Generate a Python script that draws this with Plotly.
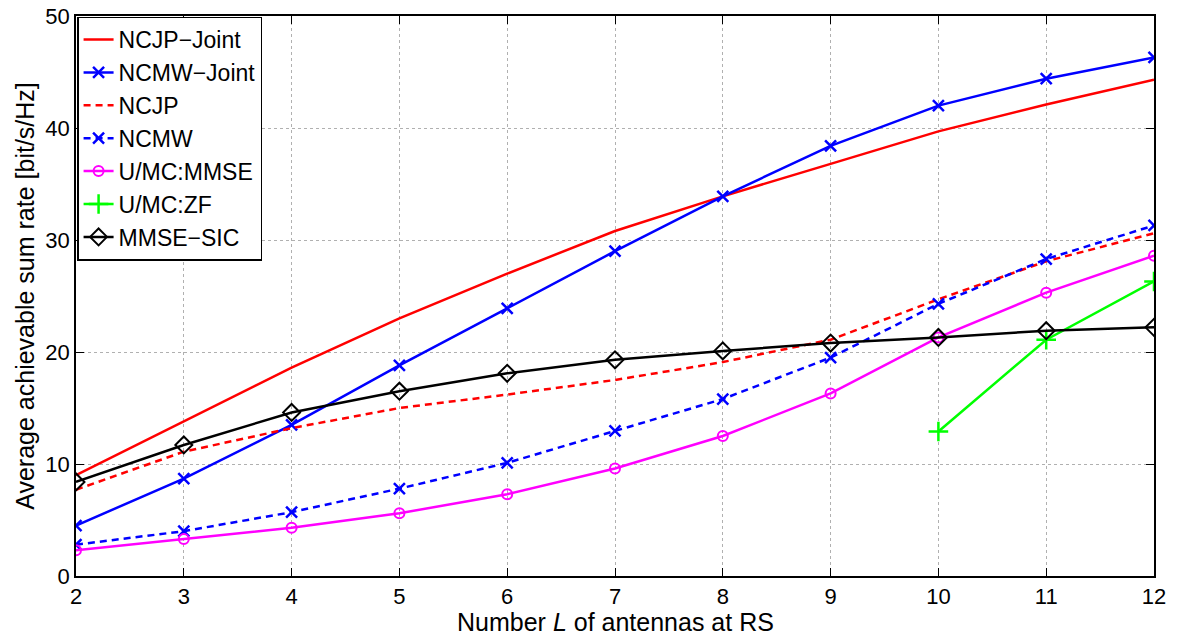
import plotly.graph_objects as go

L = [2, 3, 4, 5, 6, 7, 8, 9, 10, 11, 12]
ncjp_joint = [9.0, 13.8, 18.6, 23.0, 27.0, 30.8, 33.9, 36.8, 39.7, 42.1, 44.3]
ncmw_joint = [4.5, 8.7, 13.5, 18.8, 23.9, 29.0, 33.9, 38.4, 42.0, 44.4, 46.3]
ncjp = [7.7, 11.1, 13.2, 15.0, 16.2, 17.5, 19.1, 21.1, 24.7, 28.1, 30.6]
ncmw = [2.8, 4.0, 5.7, 7.8, 10.1, 12.95, 15.8, 19.5, 24.3, 28.3, 31.3]
umc_mmse = [2.3, 3.3, 4.3, 5.6, 7.3, 9.6, 12.5, 16.3, 21.3, 25.3, 28.6]
L_zf = [10, 11, 12]
umc_zf = [12.9, 21.1, 26.3]
mmse_sic = [8.4, 11.7, 14.6, 16.5, 18.1, 19.3, 20.1, 20.8, 21.3, 21.9, 22.2]

RED = "#ff0000"
BLUE = "#0000ff"
MAG = "#ff00ff"
GRN = "#00ff00"
BLK = "#000000"
LW = 2.5
FONT = "Liberation Sans, Arial, Helvetica, sans-serif"

fig = go.Figure()
fig.add_trace(go.Scatter(x=L, y=ncjp_joint, mode="lines", name="NCJP\u2212Joint",
                         line=dict(color=RED, width=LW)))
fig.add_trace(go.Scatter(x=L, y=ncmw_joint, mode="lines+markers", name="NCMW\u2212Joint",
                         line=dict(color=BLUE, width=LW),
                         marker=dict(symbol="x-thin-open", size=11, line=dict(color=BLUE, width=2.5))))
fig.add_trace(go.Scatter(x=L, y=ncjp, mode="lines", name="NCJP",
                         line=dict(color=RED, width=LW, dash="7px,5px")))
fig.add_trace(go.Scatter(x=L, y=ncmw, mode="lines+markers", name="NCMW",
                         line=dict(color=BLUE, width=LW, dash="7px,5px"),
                         marker=dict(symbol="x-thin-open", size=11, line=dict(color=BLUE, width=2.5))))
fig.add_trace(go.Scatter(x=L, y=umc_mmse, mode="lines+markers", name="U/MC:MMSE",
                         line=dict(color=MAG, width=LW),
                         marker=dict(symbol="circle-open", size=10, color=MAG, line=dict(color=MAG, width=2))))
fig.add_trace(go.Scatter(x=L_zf, y=umc_zf, mode="lines+markers", name="U/MC:ZF",
                         line=dict(color=GRN, width=LW),
                         marker=dict(symbol="cross-thin-open", size=14, line=dict(color=GRN, width=2.5))))
fig.add_trace(go.Scatter(x=L, y=mmse_sic, mode="lines+markers", name="MMSE\u2212SIC",
                         line=dict(color=BLK, width=LW),
                         marker=dict(symbol="diamond-open", size=13, color=BLK, line=dict(color=BLK, width=2))))

axis_common = dict(
    showline=True, linecolor="black", linewidth=1.5, mirror="ticks",
    ticks="inside", ticklen=8, tickcolor="black", tickwidth=1,
    showgrid=True, gridcolor="#b0b0b0", griddash="dot", gridwidth=1,
    zeroline=False, automargin=False, ticklabeloverflow="allow",
    tickfont=dict(family=FONT, size=22, color="black"),
)

fig.update_layout(
    width=1177, height=637,
    margin=dict(l=68, r=31, t=8, b=69),
    paper_bgcolor="white", plot_bgcolor="white",
    font=dict(family=FONT, size=22, color="black"),
    xaxis=dict(range=[2, 12], tickmode="array", tickvals=L, **axis_common),
    yaxis=dict(range=[0, 50], tickmode="array", tickvals=[0, 10, 20, 30, 40, 50],
               title=dict(text="Average achievable sum rate [bit/s/Hz]", standoff=4,
                          font=dict(size=25)),
               **axis_common),
    legend=dict(x=0.001, y=0.999, xanchor="left", yanchor="top",
                bgcolor="white", bordercolor="black", borderwidth=1.5,
                font=dict(size=23), tracegroupgap=0, itemwidth=30,
                itemsizing="trace"),
    showlegend=True,
)

fig.add_annotation(text="Number <i>L</i> of antennas at RS", xref="paper", yref="paper",
                   x=0.5, y=-0.082, xanchor="center", yanchor="middle",
                   showarrow=False, font=dict(family=FONT, size=25, color="black"))

fig.write_html("out.html")
